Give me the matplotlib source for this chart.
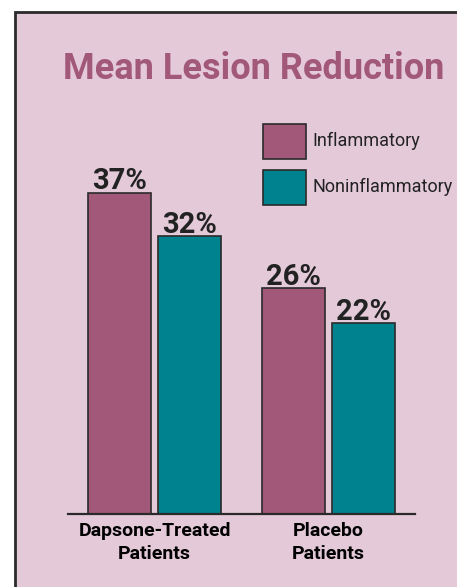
import matplotlib
matplotlib.use("Agg")
import matplotlib.pyplot as plt
from matplotlib.patches import Rectangle

categories = ["Dapsone-Treated\nPatients", "Placebo\nPatients"]
series_names = ["Inflammatory", "Noninflammatory"]
inflammatory = [37, 26]
noninflammatory = [32, 22]
title = "Mean Lesion Reduction"

c_inf = "#a25878"
c_non = "#00838e"
panel = "#e4cad9"
edge = "#2a2a2a"
font = "Roboto"

W, H = 457, 587
fig = plt.figure(figsize=(W / 100, H / 100), dpi=100)
fig.patch.set_facecolor("white")

def fx(px):
    return px / W

def fy(py):
    return 1 - py / H

# panel
fig.patches.append(Rectangle((fx(15), -0.01), 1 - fx(15) + 0.01, fy(12) + 0.01, transform=fig.transFigure,
                             facecolor=panel, edgecolor=edge, linewidth=2, zorder=-5))

ax = fig.add_axes([fx(68), fy(514), fx(415) - fx(68), fy(100) - fy(514)])
ax.set_zorder(2)
ax.set_facecolor("none")
ax.set_ylim(0, 414 / 8.68)
ax.set_xlim(-0.4986, 1.501)
w = 0.363
off = 0.2017
pos = list(range(len(categories)))
b1 = ax.bar([p - off for p in pos], inflammatory, w, color=c_inf, edgecolor=edge, linewidth=1.2)
b2 = ax.bar([p + off for p in pos], noninflammatory, w, color=c_non, edgecolor=edge, linewidth=1.2)
for bars, vals in ((b1, inflammatory), (b2, noninflammatory)):
    for b, v in zip(bars, vals):
        ax.text(b.get_x() + b.get_width() / 2, v + 0.4, f"{v}%", ha="center", va="baseline",
                fontsize=21, fontweight="bold", color="#222222", family=font)
for s in ("top", "right", "left"):
    ax.spines[s].set_visible(False)
ax.spines["bottom"].set_linewidth(1.6)
ax.spines["bottom"].set_color(edge)
ax.set_yticks([])
ax.set_xticks(pos)
ax.set_xticklabels(categories, fontsize=14, fontweight="bold", family=font, linespacing=1.35)
ax.tick_params(axis="x", length=0, pad=6)

fig.text(fx(254), fy(69), title, ha="center", va="center", fontsize=26, fontweight="bold",
         color=c_inf, family=font)

# legend
for (y0, col, name) in ((124, c_inf, series_names[0]), (170, c_non, series_names[1])):
    fig.patches.append(Rectangle((fx(263), fy(y0 + 35)), fx(43), 35 / H, transform=fig.transFigure,
                                 facecolor=col, edgecolor=edge, linewidth=1.2, zorder=2))
    fig.text(fx(312), fy(y0 + 17), name, ha="left", va="center", fontsize=13,
             color="#222222", family=font)

fig.savefig("out.png", dpi=100)
